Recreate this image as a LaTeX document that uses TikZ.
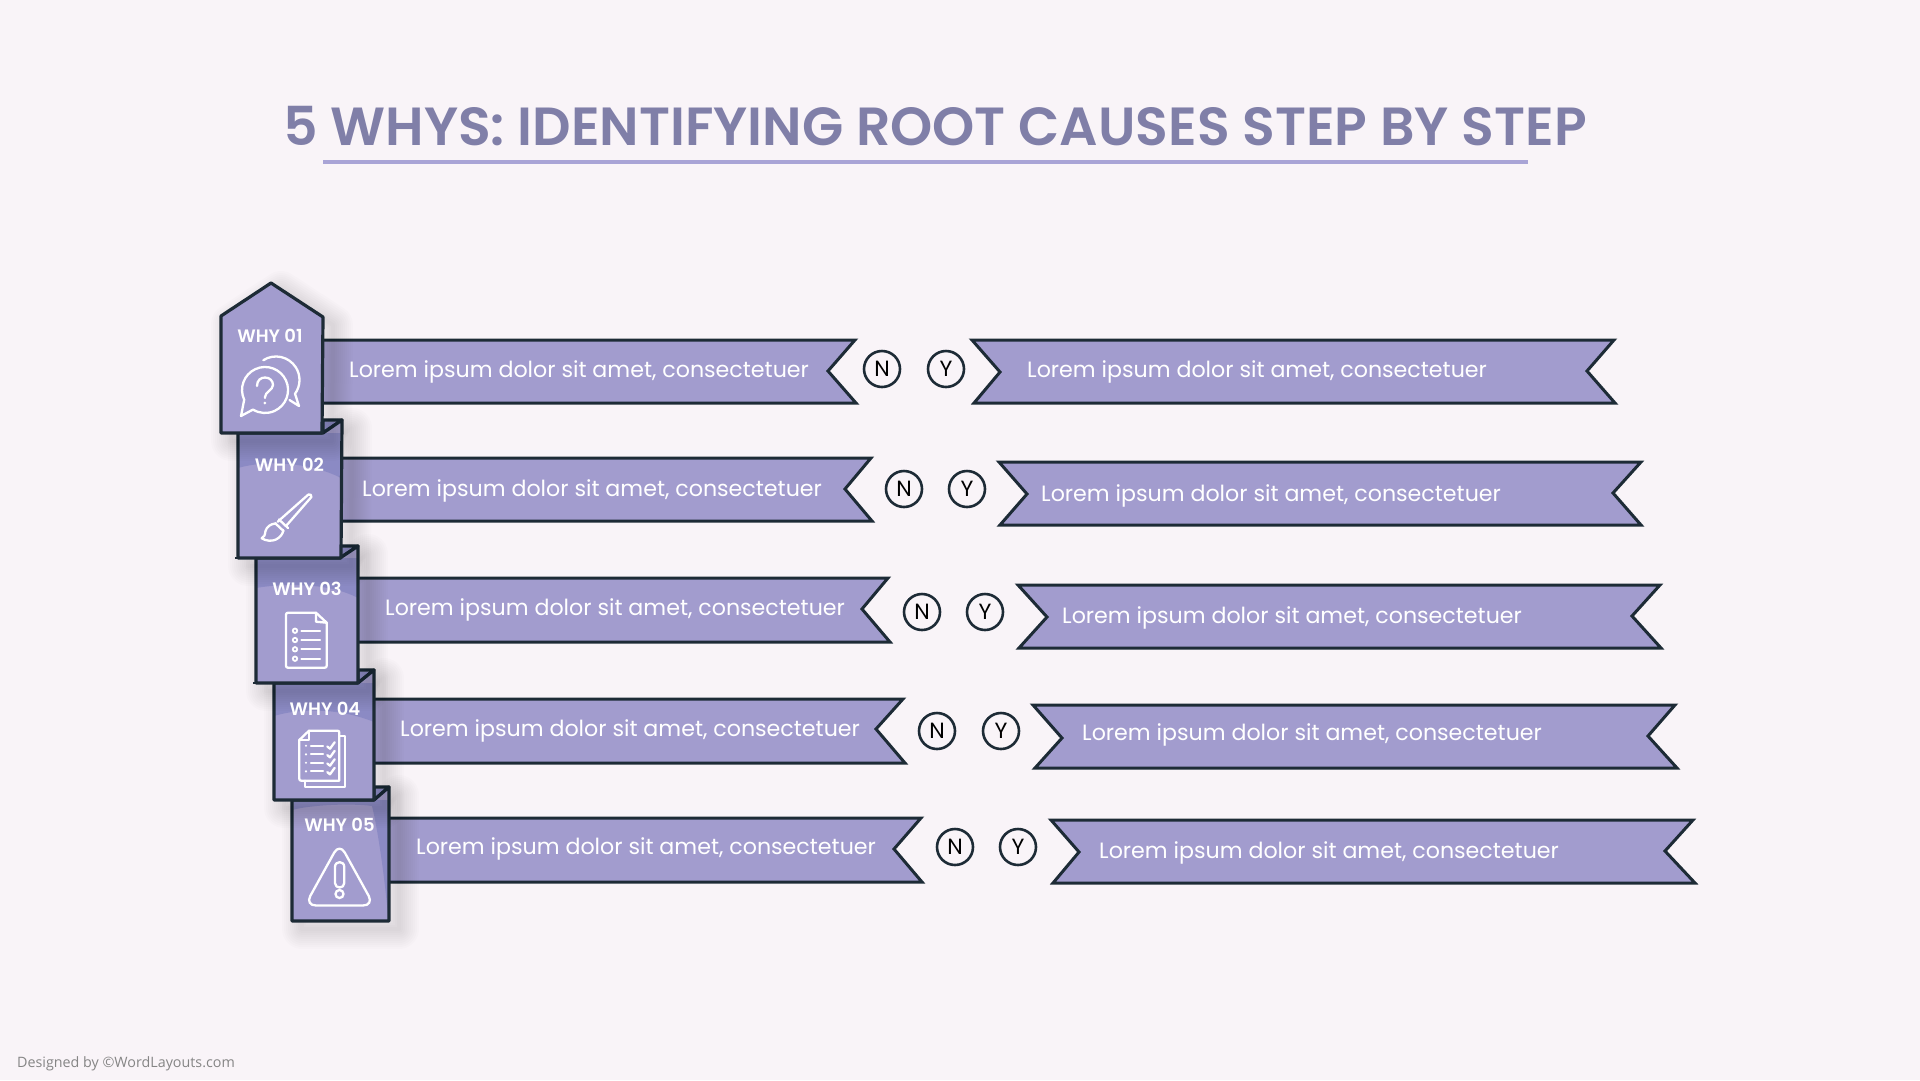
\documentclass[tikz,border=0pt]{standalone}
\usepackage{fontspec}
\setmainfont{Poppins}[BoldFont={Poppins SemiBold}]
\newfontfamily\footerfont{Open Sans}
\definecolor{pagebg}{HTML}{F9F4F8}
\definecolor{ribbonfill}{HTML}{A29CCE}
\definecolor{banddark}{HTML}{8B8AC4}
\definecolor{inkline}{HTML}{1D2B36}
\definecolor{titlecol}{HTML}{807FA8}
\definecolor{rulecol}{HTML}{A9A4D6}
\definecolor{footercol}{HTML}{858585}
\tikzset{
  ribbon/.style={fill=ribbonfill, draw=inkline, line width=3pt, line join=miter},
  boxline/.style={draw=inkline, line width=3.2pt, line join=round},
  shadowline/.style={draw=black, opacity=.012, line join=round},
  iconline/.style={draw=white, line width=2.3pt, line join=round, line cap=round},
  ribbontext/.style={font=\fontsize{22.15}{22.15}\selectfont, text=white, anchor=base west, inner sep=0pt},
  whytext/.style={font=\bfseries\fontsize{18}{18}\selectfont, text=white, anchor=base, inner sep=0pt},
  answer/.style={circle, draw=inkline, line width=2.6pt, minimum size=36pt, inner sep=0pt, text=black, font=\fontsize{22}{22}\selectfont},
}
% soft shadow, dark band, fold and outline of one box
\newcommand{\whybox}[3]{
  \begin{scope}[shift={(10,8)}]
    \foreach \w in {4,8,...,40} \draw[shadowline, line width=\w pt] #1;
  \end{scope}
  \draw[boxline, fill=banddark] #3;
  \fill[ribbonfill] #1;
  \fill[banddark] #2;
  \draw[boxline] #1;
}
\begin{document}
\begin{tikzpicture}[x=1pt,y=-1pt]
  \useasboundingbox (0,0) rectangle (1920,1080);
  \fill[pagebg] (0,0) rectangle (1920,1080);

  % Title
  \node[font=\bfseries\fontsize{53.7}{53.7}\selectfont, text=titlecol, anchor=base west, inner sep=0pt] (title) at (283,145) {5 WHYS: IDENTIFYING ROOT CAUSES STEP BY STEP};
  \coordinate (ruleL) at (323,162);
  \coordinate (ruleR) at (1528,162);
  \draw[rulecol, line width=4.5pt] (ruleL) -- (ruleR);

  % Left ribbons
  \foreach \xs/\yt/\yb/\xt/\xn/\yn/\xb in {300/340/403/855/828/371/856, 320/458/521/871/845/489/872, 340/578/642/888/862/609/890, 355/699/763/903/876/729/905, 370/818/882/921/894/849/922}
    \draw[ribbon] (\xs,\yt) -- (\xt,\yt) -- (\xn,\yn) -- (\xb,\yb) -- (\xs,\yb) -- cycle;

  % Right ribbons
  \foreach \xa/\yt/\xn/\yn/\xb/\yb/\xc/\xm/\ym/\xd in {972/340/1000/372/974/403/1614/1587/371/1615, 999/462/1027/494/1000/525/1641/1613/493/1641, 1018/585/1047/617/1019/648/1660/1632/616/1661, 1033/705/1062/738/1035/768/1675/1648/736/1677, 1051/820/1079/852/1053/883/1693/1665/851/1695}
    \draw[ribbon] (\xa,\yt) -- (\xn,\yn) -- (\xb,\yb) -- (\xd,\yb) -- (\xm,\ym) -- (\xc,\yt) -- cycle;

  % Boxes, from the lowest one up
  \whybox{(292,800) -- (374,800) -- (389,787) -- (389,921) -- (292,921) -- cycle}
         {(292,810) .. controls (310,805) and (350,803) .. (372,806) .. controls (378,830) and (385,880) .. (388,916) -- (389,800) -- (292,800) -- cycle}
         {(374,787) -- (389,787) -- (374,800) -- cycle}
  \whybox{(274,683) -- (358,683) -- (374,670) -- (374,800) -- (274,800) -- cycle}
         {(274,716) .. controls (300,708) and (340,708) .. (374,722) -- (374,683) -- (274,683) -- cycle}
         {(358,670) -- (374,670) -- (358,683) -- cycle}
  \whybox{(256,558) -- (340,558) -- (358,546) -- (358,683) -- (256,683) -- cycle}
         {(256,588) .. controls (285,583) and (330,583) .. (358,598) -- (358,558) -- (256,558) -- cycle}
         {(340,546) -- (358,546) -- (340,558) -- cycle}
  \whybox{(238,433) -- (323,433) -- (342,420) -- (341,558) -- (238,558) -- cycle}
         {(238,468) .. controls (265,460) and (310,462) .. (341,478) -- (341,433) -- (238,433) -- cycle}
         {(323,420) -- (342,420) -- (323,433) -- cycle}
  \begin{scope}[shift={(10,8)}]
    \foreach \w in {4,8,...,40} \draw[shadowline, line width=\w pt] (221,316) -- (271,283) -- (323,317) -- (322,433) -- (221,433) -- cycle;
  \end{scope}
  \draw[boxline, fill=ribbonfill] (221,316) -- (271,283) -- (323,317) -- (322,433) -- (221,433) -- cycle;
  % Loose line ends of the sketch
  \draw[inkline, line width=1.5pt] (253,683) -- (258,683);
  \draw[inkline, line width=1.5pt] (235,558) -- (240,558);

  % Box labels
  \node[whytext] (why1) at (270,342) {WHY 01};
  \node[whytext] (why2) at (289.5,471) {WHY 02};
  \node[whytext] (why3) at (307,595) {WHY 03};
  \node[whytext] (why4) at (325,715) {WHY 04};
  \node[whytext] (why5) at (339.5,831) {WHY 05};

  % Icon 1: speech bubbles
  \draw[iconline] (244.2,399.7) arc[start angle=155, end angle=481.6, radius=23] -- (241,416) -- cycle;
  \draw[iconline] (263.3,360.2) arc[start angle=237.3, end angle=396, radius=23.5] -- (299,406) -- (289.5,400);
  \draw[iconline] (257,386) .. controls (257,380) and (261,377.5) .. (265,377.5) .. controls (270,377.5) and (273,381) .. (273,385) .. controls (273,390) and (265,392) .. (265,397) -- (265,398);
  \fill[white] (264.8,403) circle (1.5);

  % Icon 2: brush
  \draw[iconline] (277.7,521.7) -- (308.3,494.6) .. controls (310,493.6) and (312,495) .. (311.4,497) -- (286,526);
  \draw[iconline] (279,519.5) -- (288,528);
  \draw[iconline] (275.5,523.5) -- (283.5,531);
  \draw[iconline] (276,523.3) .. controls (270,524) and (266.7,527) .. (265.5,531) .. controls (265,535) and (264,537.5) .. (261.7,538.3) .. controls (266,541) and (272,541.5) .. (276,539.5) .. controls (280,537.5) and (283,534) .. (283.3,530);

  % Icon 3: list page
  \draw[iconline] (316,612.7) -- (288,612.7) .. controls (286.7,612.7) and (286,613.4) .. (286,614.7) -- (286,665.7) .. controls (286,667) and (286.7,667.7) .. (288,667.7) -- (324.7,667.7) .. controls (326,667.7) and (326.7,667) .. (326.7,665.7) -- (326.7,622.7) -- cycle;
  \draw[iconline] (316,612.7) -- (316,621.7) -- (326.7,622.7);
  \foreach \y in {630.7,640,649.3,658.7} {
    \draw[white, line width=1.8pt] (295,\y) circle (2.2);
    \draw[iconline] (301.5,\y) -- (320,\y);
  }

  % Icon 4: checklist pages
  \draw[iconline] (339.3,736) -- (345,736) -- (345,786.7) -- (305,786.7) -- (305,780.7);
  \draw[iconline] (309,730.7) -- (337.3,730.7) .. controls (338.6,730.7) and (339.3,731.4) .. (339.3,732.7) -- (339.3,780.7) -- (301.3,780.7) .. controls (300,780.7) and (299.3,780) .. (299.3,778.7) -- (299.3,740) -- cycle;
  \draw[iconline] (309,730.7) -- (309,740) -- (299.3,740);
  \foreach \y in {745.7,754.3,762.7,771.3} {
    \fill[white] (306,\y) circle (1.2);
    \draw[iconline] (311,\y) -- (323,\y);
    \draw[iconline] (327.3,\y+0.8) -- (330,\y+3) -- (334.7,\y-3.5);
  }

  % Icon 5: warning sign
  \draw[iconline, rounded corners=11pt] (339.5,843) -- (374,905.5) -- (305,905.5) -- cycle;
  \draw[iconline] (335,867) .. controls (335,860.5) and (344.3,860.5) .. (344.3,867) -- (344.3,883) .. controls (344.3,889) and (335,889) .. (335,883) -- cycle;
  \draw[white, line width=2.3pt] (339.5,894) circle (4);

  % Ribbon texts
  \foreach \n/\x/\y in {1/349/377, 2/362/496, 3/385/615, 4/400/736, 5/416/854}
    \node[ribbontext] (causeL\n) at (\x,\y) {Lorem ipsum dolor sit amet, consectetuer};
  \foreach \n/\x/\y in {1/1027/377, 2/1041/501, 3/1062/623, 4/1082/740, 5/1099/858}
    \node[ribbontext] (causeR\n) at (\x,\y) {Lorem ipsum dolor sit amet, consectetuer};

  % Answers
  \foreach \n/\xa/\xb/\y in {1/882/946/369, 2/904/967/489, 3/922/985/612, 4/937/1001/731, 5/955/1018/847} {
    \node[answer] (no\n) at (\xa,\y) {N};
    \node[answer] (yes\n) at (\xb,\y) {Y};
  }

  % Footer
  \node[font=\footerfont\fontsize{14.3}{14.3}\selectfont, text=footercol, anchor=base west, inner sep=0pt] (credit) at (17,1067) {Designed by ©WordLayouts.com};
\end{tikzpicture}
\end{document}
